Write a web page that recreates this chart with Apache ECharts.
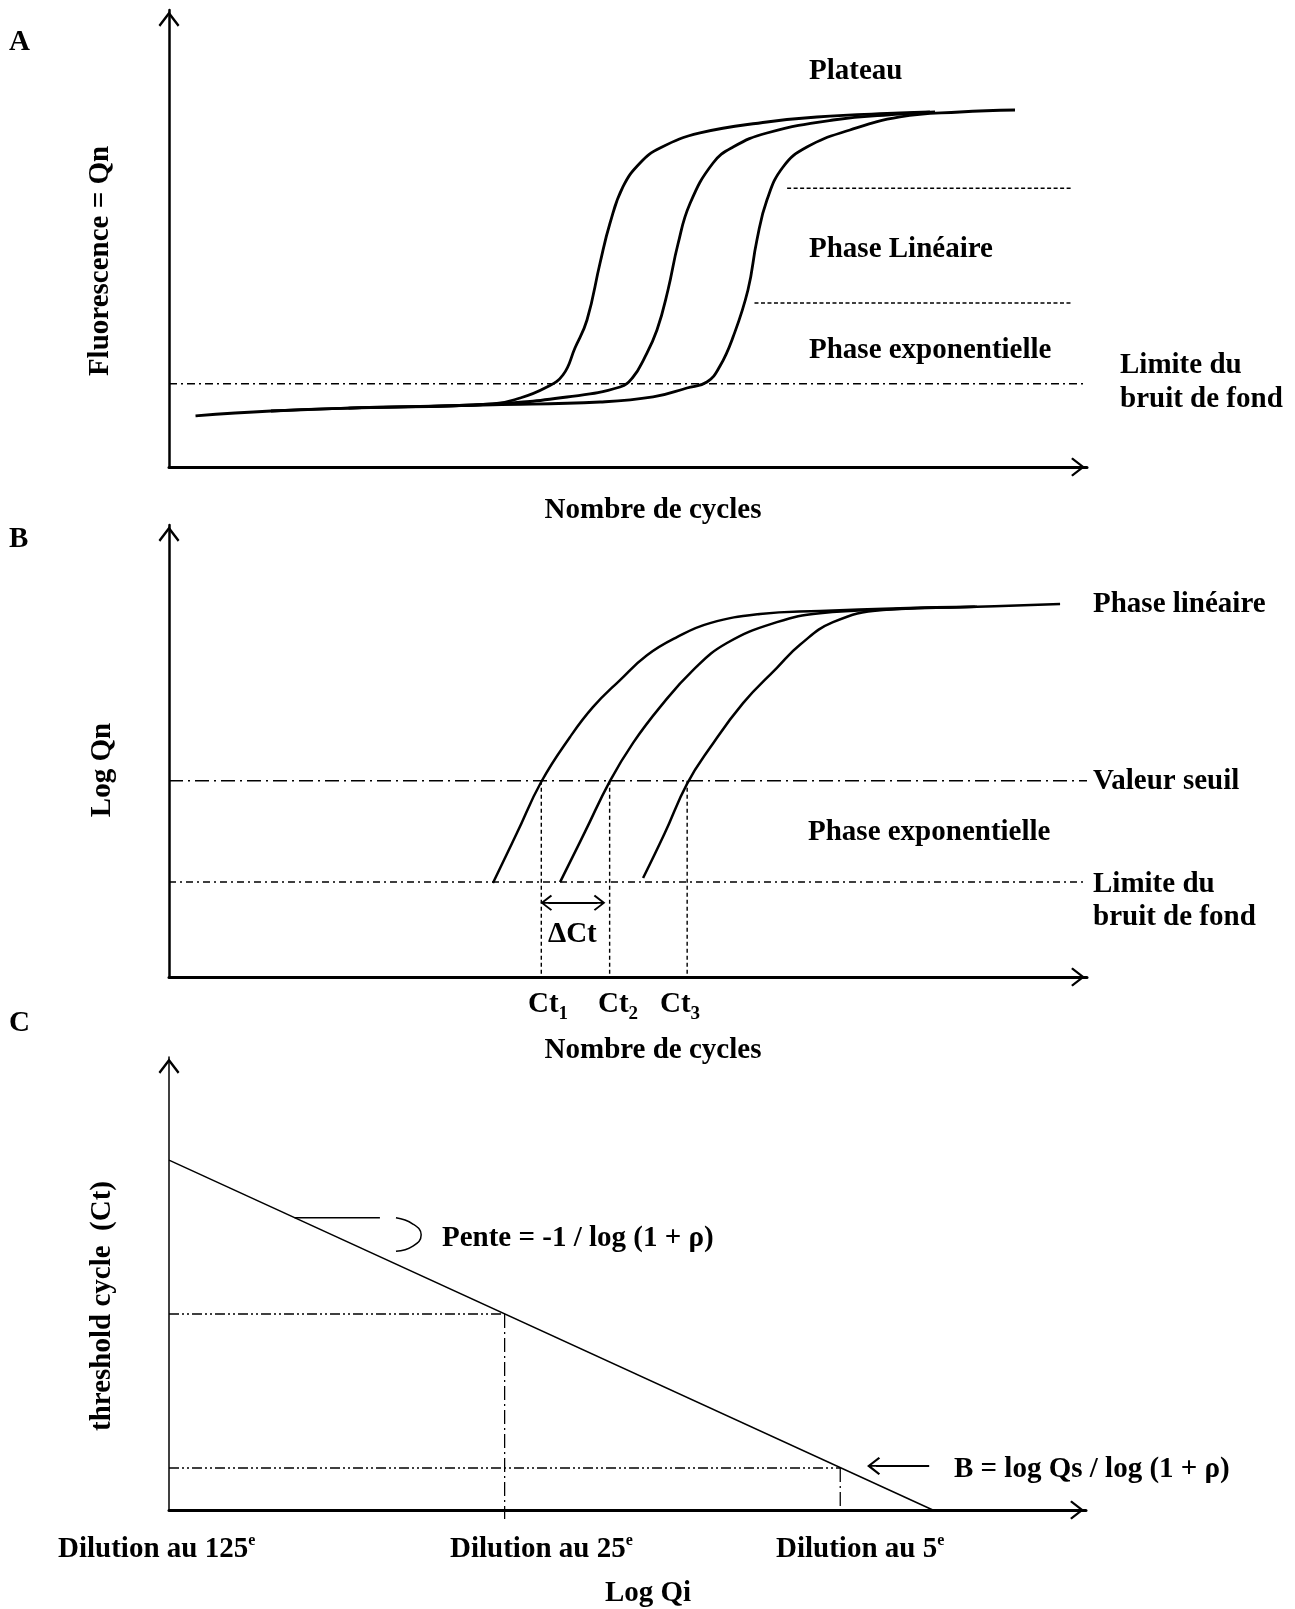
<!DOCTYPE html>
<html><head><meta charset="utf-8">
<script src="https://cdn.jsdelivr.net/npm/echarts@6/dist/echarts.min.js"></script>
<style>html,body{margin:0;padding:0;background:#fff}#c{width:1295px;height:1609px}</style>
</head><body><div id="c"></div>
<script>
// ---------- Panel A : fluorescence vs cycles (cycle, fluorescence) ----------
const curveA1 = [[1.3,11.2],[5.0,12.25],[8.8,12.9],[15.88,13.79],[17.21,15.1],[18.43,17.29],[19.31,20.13],[19.9,26.04],[20.49,32.17],[21.13,44.64],[21.62,53.39],[22.25,61.27],[23.09,66.52],[24.07,69.8],[26.03,73.09],[29.31,75.49],[31.76,76.59],[35.83,77.46],[37.3,77.68]];
const curveA2 = [[5.0,12.25],[8.8,12.9],[15.88,13.79],[19.51,15.32],[22.11,17.51],[22.75,19.69],[23.28,23.63],[23.92,29.98],[24.46,38.73],[24.95,48.8],[25.54,57.66],[26.67,66.52],[27.65,70.02],[29.31,73.09],[32.55,75.93],[35.83,77.24],[37.55,77.68]];
const curveA3 = [[8.8,12.9],[15.88,13.6],[21.13,14.22],[23.73,15.32],[25.39,17.29],[26.37,18.6],[27.01,22.1],[27.65,28.45],[28.38,38.73],[28.82,49.67],[29.31,58.42],[30.1,65.65],[31.27,70.02],[33.38,73.74],[35.83,76.59],[38.77,77.68],[41.47,78.12]];
const noiseLimitA = 18.2;
const plateauLimitA = [[30.3,61.0],[44.2,61.0]];
const linearLimitA = [[28.7,35.9],[44.2,35.9]];

// ---------- Panel B : log Qn vs cycles ----------
const curveB1 = [[15.88,2.08],[17.06,3.19],[18.25,4.32],[19.66,5.31],[20.78,5.97],[22.11,6.57],[23.43,7.12],[24.9,7.52],[26.52,7.83],[28.97,8.03],[31.91,8.1],[35.83,8.16],[39.5,8.19]];
const curveB2 = [[19.17,2.1],[20.39,3.21],[21.62,4.34],[22.75,5.18],[24.07,5.97],[25.69,6.79],[27.35,7.39],[29.8,7.85],[31.91,8.05],[35.83,8.14],[39.6,8.19]];
const curveB3 = [[23.24,2.19],[24.31,3.19],[25.4,4.28],[26.52,5.07],[28.14,6.06],[29.8,6.84],[30.93,7.35],[32.55,7.85],[35.0,8.12],[39.6,8.19],[43.68,8.25]];
const thresholdB = 4.34;
const noiseLimitB = 2.1;
const ctValues = [18.25, 21.6, 25.4];
const ctLabels = ['1', '2', '3'];
const deltaCtArrow = [[18.6,1.64],[21.0,1.64]];

// ---------- Panel C : threshold cycle vs log Qi ----------
const standardLine = [[0,30.9],[83.3,0]];
const dilutionX = [0, 36.6, 73.2];
const dilutionCt = [30.9, 17.3, 3.7];
const dilutionLabels = ['125', '25', '5'];
const slopeTick = [[13.7,25.8],[23.0,25.8]];
const slopeArc = [[24.75,25.8],[26.6,25.25],[27.5,24.3],[26.6,23.3],[24.75,22.85]];
const interceptArrow = [[82.9,3.89],[77.1,3.89]];

const FONT = '"Liberation Serif", "Times New Roman", serif';
const chevron = 'path://M12,0 L24,15.5 L22,17.5 L12,4.5 L2,17.5 L0,15.5 Z';
const arrowHead = 'path://M12,0 L24,15.5 L22,17.5 L13.2,6.2 L13.2,24 L10.8,24 L10.8,6.2 L2,17.5 L0,15.5 Z';

function xAx(idx, max, w) {
  return {type:'value', gridIndex:idx, min:0, max:max,
    axisLine:{onZero:false, lineStyle:{color:'#000', width:w}, symbol:['none', chevron], symbolSize:[19,18], symbolOffset:[0,-9]},
    axisTick:{show:false}, axisLabel:{show:false}, splitLine:{show:false}};
}
function yAx(idx, max, w) {
  return {type:'value', gridIndex:idx, min:0, max:max,
    axisLine:{onZero:false, lineStyle:{color:'#000', width:w}, symbol:['none', chevron], symbolSize:[21,18], symbolOffset:[0,-9]},
    axisTick:{show:false}, axisLabel:{show:false}, splitLine:{show:false}};
}
function line(g, data, width, type, smooth) {
  const s = {type:'line', xAxisIndex:g, yAxisIndex:g, data:data, showSymbol:false, symbol:'none',
    clip:false, silent:true, lineStyle:{color:'#000', width:width, type:type || 'solid'}};
  if (smooth) { s.smooth = smooth; }
  return s;
}

const series = [];
[curveA1, curveA2, curveA3].forEach(c => series.push(line(0, c, 2.8, 'solid', 0.45)));
series.push(line(0, [[0,noiseLimitA],[45,noiseLimitA]], 1.5, [8,4,2,4]));
series.push(line(0, plateauLimitA, 1.4, [4,2.5]));
series.push(line(0, linearLimitA, 1.4, [4,2.5]));

[curveB1, curveB2, curveB3].forEach(c => series.push(line(1, c, 2.5, 'solid', 0.45)));
series.push(line(1, [[0,thresholdB],[45,thresholdB]], 1.5, [14,5,2,5]));
series.push(line(1, [[0,noiseLimitB],[45,noiseLimitB]], 1.5, [7,4,2,4]));
ctValues.forEach(v => series.push(line(1, [[v,thresholdB],[v,0]], 1.4, [4,3])));
series.push({type:'lines', coordinateSystem:'cartesian2d', xAxisIndex:1, yAxisIndex:1, silent:true,
  symbol:[arrowHead, arrowHead], symbolSize:16, lineStyle:{color:'#000', width:2, opacity:1},
  data:[{coords:deltaCtArrow}]});

series.push(line(2, standardLine, 1.5));
series.push(line(2, [[0,dilutionCt[1]],[dilutionX[1],dilutionCt[1]]], 1.5, [10,3,2,3,2,3]));
series.push(line(2, [[dilutionX[1],dilutionCt[1]],[dilutionX[1],-0.8]], 1.3, [14,4,2,4]));
series.push(line(2, [[0,dilutionCt[2]],[dilutionX[2],dilutionCt[2]]], 1.5, [10,3,2,3,2,3]));
series.push(line(2, [[dilutionX[2],dilutionCt[2]],[dilutionX[2],0]], 1.3, [14,4,2,4]));
series.push(line(2, slopeTick, 1.5));
series.push(line(2, slopeArc, 1.5, 'solid', 0.5));
series.push({type:'lines', coordinateSystem:'cartesian2d', xAxisIndex:2, yAxisIndex:2, silent:true,
  symbol:['none', arrowHead], symbolSize:18, lineStyle:{color:'#000', width:2, opacity:1},
  data:[{coords:interceptArrow}]});

function txt(t, x, y, opts) {
  opts = opts || {};
  return {type:'text', x:x, y:y, rotation:opts.rot || 0, silent:true,
    style:{text:t, font:'bold 29px ' + FONT, fill:'#000', align:opts.align || 'left', verticalAlign:'middle', rich:opts.rich}};
}
const subRich = {m:{fontSize:29, fontWeight:'bold', fontFamily:FONT, verticalAlign:'middle', lineHeight:38},
                 s:{fontSize:19, fontWeight:'bold', fontFamily:FONT, verticalAlign:'bottom', lineHeight:20}};
const supRich = {m:{fontSize:29, fontWeight:'bold', fontFamily:FONT, verticalAlign:'middle', lineHeight:34},
                 s:{fontSize:16, fontWeight:'bold', fontFamily:FONT, verticalAlign:'top', lineHeight:18}};

const texts = [
  txt('A', 9, 43), txt('Plateau', 809, 72), txt('Phase Linéaire', 809, 250), txt('Phase exponentielle', 809, 351),
  txt('Limite du', 1120, 366), txt('bruit de fond', 1120, 400), txt('Nombre de cycles', 653, 511, {align:'center'}),
  txt('Fluorescence = Qn', 101, 261, {align:'center', rot:Math.PI/2}),
  txt('B', 9, 540), txt('Phase linéaire', 1093, 605), txt('Valeur seuil', 1093, 782), txt('Phase exponentielle', 808, 833),
  txt('Limite du', 1093, 885), txt('bruit de fond', 1093, 918), txt('ΔCt', 548, 935),
  txt('Nombre de cycles', 653, 1051, {align:'center'}), txt('Log Qn', 103, 770, {align:'center', rot:Math.PI/2}),
  txt('C', 9, 1024), txt('threshold cycle  (Ct)', 103, 1306, {align:'center', rot:Math.PI/2}),
  txt('Pente = -1 / log (1 + ρ)', 442, 1239), txt('B = log Qs / log (1 + ρ)', 954, 1470),
  txt('Log Qi', 648, 1594, {align:'center'})
];
const ctX = [528, 598, 660];
ctLabels.forEach((l, i) => texts.push(txt('{m|Ct}{s|' + l + '}', ctX[i], 1005, {rich:subRich})));
const dilX = [58, 450, 776];
dilutionLabels.forEach((l, i) => texts.push(txt('{m|Dilution au ' + l + '}{s|e}', dilX[i], 1550, {rich:supRich})));

const chart = echarts.init(document.getElementById('c'), null, {renderer:'canvas'});
chart.setOption({
  backgroundColor:'#fff',
  animation:false,
  grid:[
    {left:169, top:10, width:918, height:457},
    {left:169, top:525, width:918, height:452},
    {left:169, top:1057, width:917, height:453}
  ],
  xAxis:[xAx(0,45,3), xAx(1,45,3), xAx(2,100,3)],
  yAxis:[yAx(0,100,2.5), yAx(1,10,2.5), yAx(2,40,1.5)],
  series:series,
  graphic:{elements:texts}
});
</script>
</body></html>
